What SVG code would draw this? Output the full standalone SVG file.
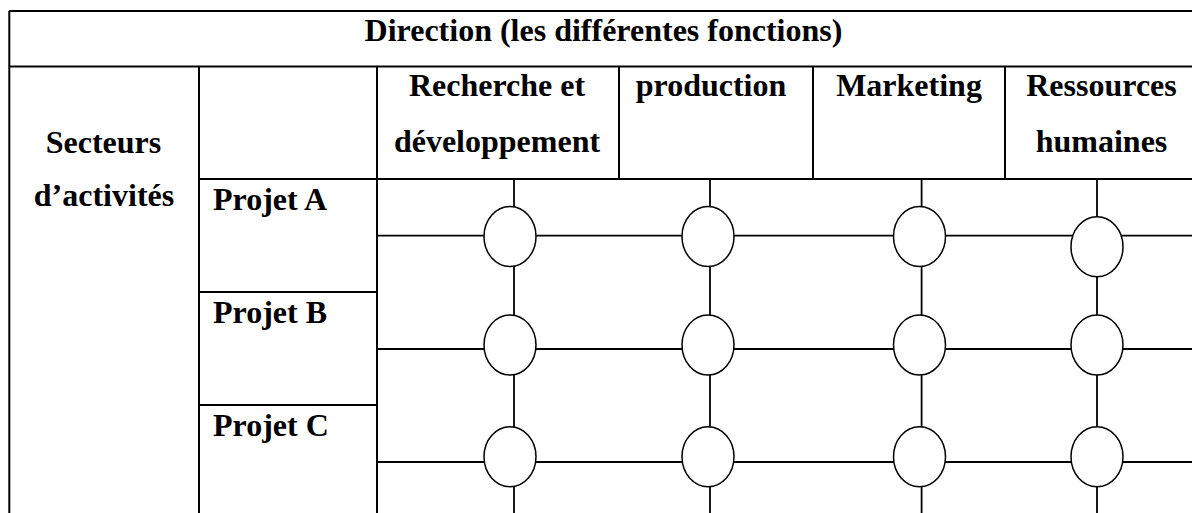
<svg xmlns="http://www.w3.org/2000/svg" width="1192" height="513" viewBox="0 0 1192 513">
<style>
.t{font-family:"Liberation Serif","Times New Roman",serif;font-weight:bold;font-size:32px;fill:#000}
.m{text-anchor:middle}
.ln{stroke:#000;stroke-width:2;fill:none}
.g{stroke:#000;stroke-width:1.8;fill:none}
.n{fill:#fff;stroke:#000;stroke-width:1.5}
</style>
<rect width="1192" height="513" fill="#fff"/>
<g id="table">
<path class="ln" d="M9.3 11 V513 M9.3 11 H1192 M9.3 66.5 H1192 M199 66.5 V513 M377 66.5 V513 M619 66.5 V179 M813 66.5 V179 M1005 66.5 V179 M199 179 H1192 M199 292 H377 M199 405 H377"/>
</g>
<g id="labels">
<text class="t m" x="603.5" y="40.5">Direction (les différentes fonctions)</text>
<text class="t m" x="103.5" y="153">Secteurs</text>
<text class="t m" x="104" y="205.5">d’activités</text>
<text class="t m" x="497" y="96">Recherche et</text>
<text class="t m" x="497" y="151.5">développement</text>
<text class="t m" x="711" y="96">production</text>
<text class="t m" x="909" y="96">Marketing</text>
<text class="t m" x="1101.5" y="96">Ressources</text>
<text class="t m" x="1101.5" y="151.5">humaines</text>
<text class="t" x="213" y="210">Projet A</text>
<text class="t" x="213" y="323">Projet B</text>
<text class="t" x="213" y="436">Projet C</text>
</g>
<g id="connectors">
<path class="g" d="M514 179 V513 M710 179 V513 M921.6 179 V513 M1097 179 V513 M377 235.7 H1192 M377 349 H1192 M377 462 H1192"/>
</g>
<g id="node-A1"><ellipse class="n" cx="510" cy="236.5" rx="26" ry="30"/></g>
<g id="node-A2"><ellipse class="n" cx="708" cy="236.5" rx="26" ry="30"/></g>
<g id="node-A3"><ellipse class="n" cx="919.5" cy="236.5" rx="26" ry="30"/></g>
<g id="node-A4"><ellipse class="n" cx="1097" cy="246.7" rx="26" ry="30"/></g>
<g id="node-B1"><ellipse class="n" cx="510" cy="345" rx="26" ry="30"/></g>
<g id="node-B2"><ellipse class="n" cx="708" cy="345" rx="26" ry="30"/></g>
<g id="node-B3"><ellipse class="n" cx="919.5" cy="345" rx="26" ry="30"/></g>
<g id="node-B4"><ellipse class="n" cx="1097" cy="345" rx="26" ry="30"/></g>
<g id="node-C1"><ellipse class="n" cx="510" cy="456.7" rx="26" ry="30"/></g>
<g id="node-C2"><ellipse class="n" cx="708" cy="456.7" rx="26" ry="30"/></g>
<g id="node-C3"><ellipse class="n" cx="919.5" cy="456.7" rx="26" ry="30"/></g>
<g id="node-C4"><ellipse class="n" cx="1097" cy="456.7" rx="26" ry="30"/></g>
</svg>
